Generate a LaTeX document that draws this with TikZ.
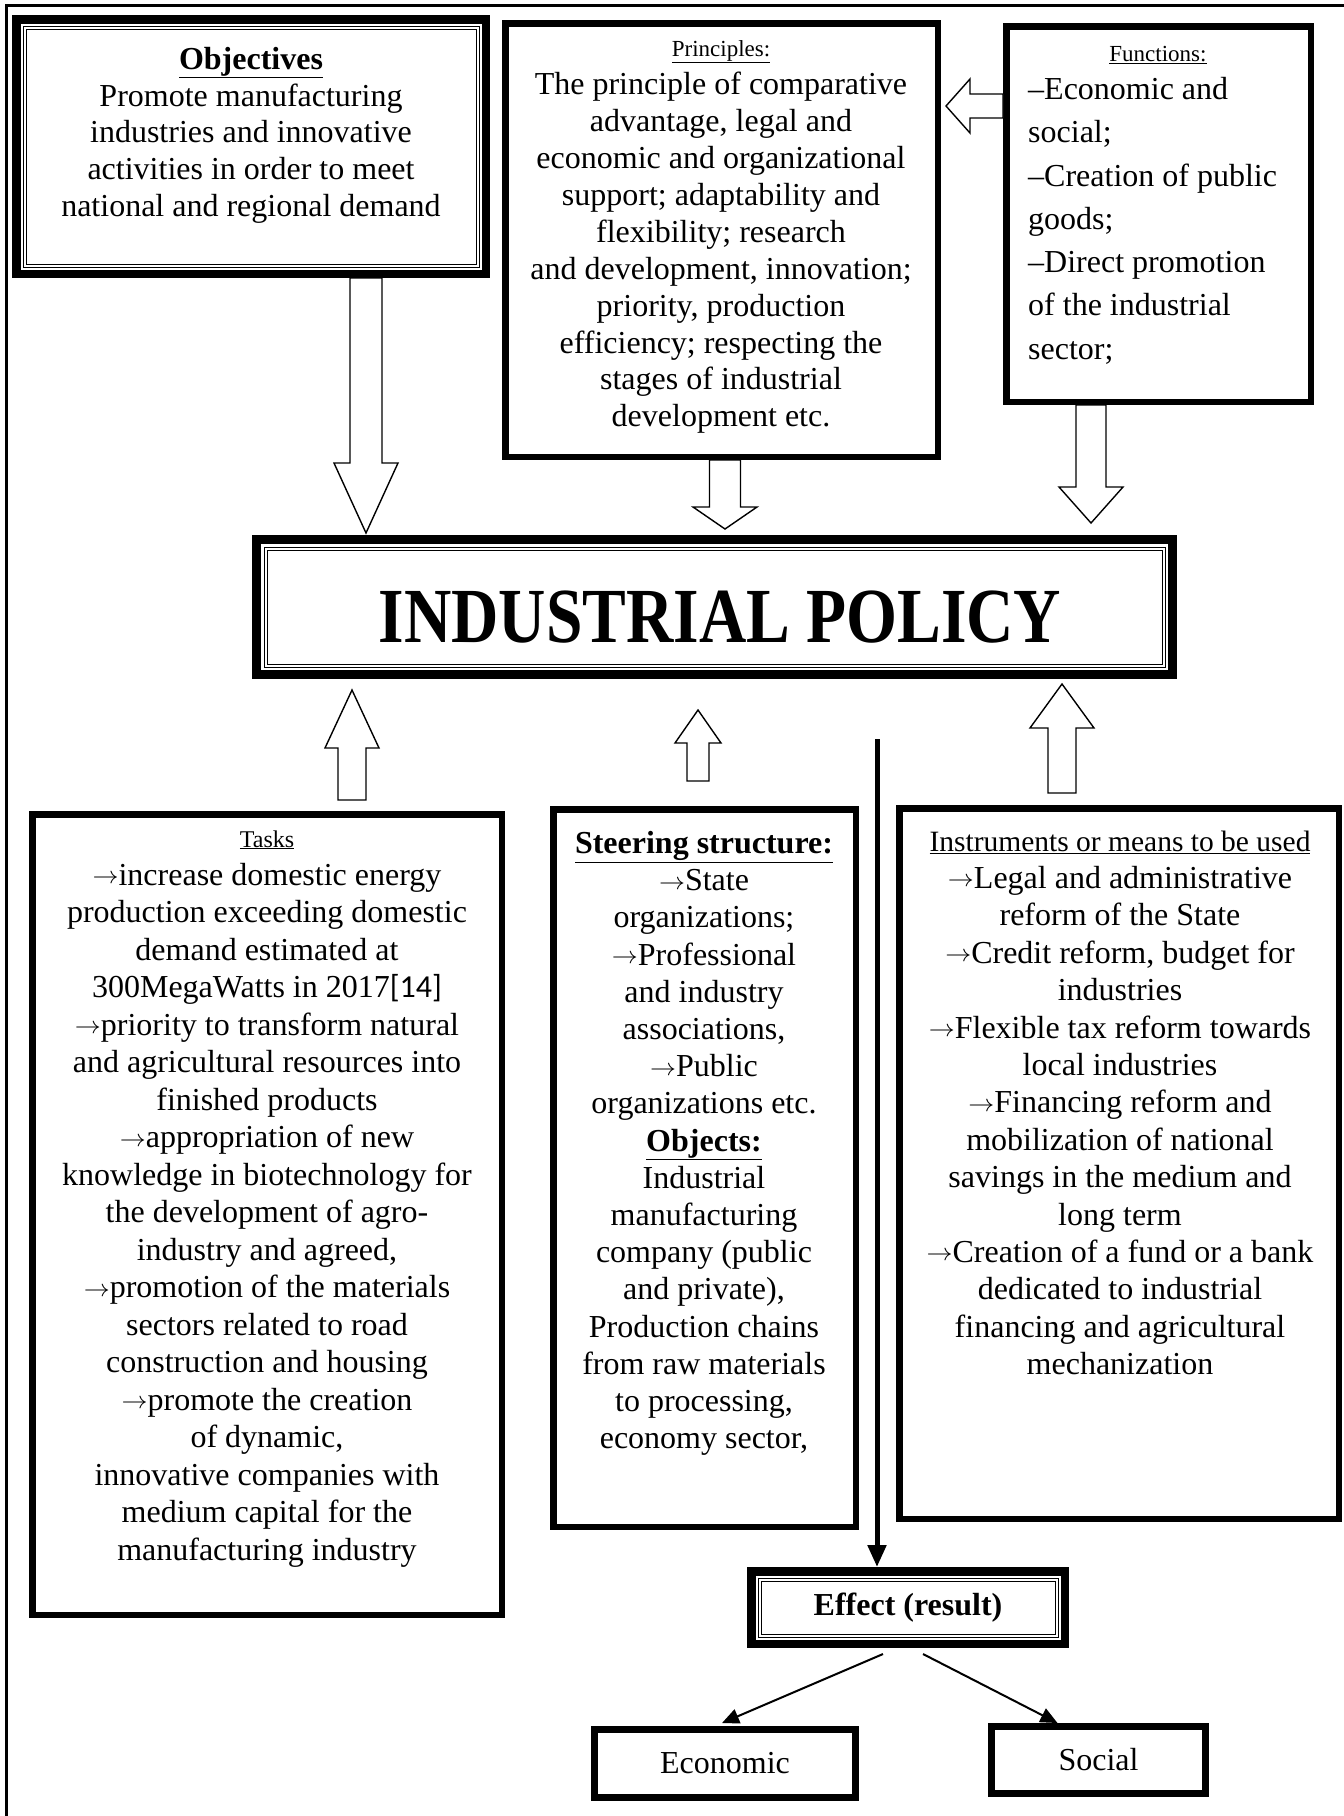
\documentclass[tikz,border=0pt]{standalone}
\usepackage{fontspec}
\setmainfont{Liberation Serif}
\newfontfamily\calib{Carlito}
\newcommand\rarr{{\fontsize{10}{10}\selectfont\raisebox{1.5pt}{\scalebox{2.6}[2.4]{$\rightarrow$}}}}
\usetikzlibrary{calc,arrows.meta}

\tikzset{
  thickbox/.style={draw, line width=6.5pt, inner sep=0pt, fill=white},
  heavybox/.style={draw, line width=8.5pt, inner sep=0pt, fill=white},
  innerline/.style={line width=1pt, double, double distance=2pt},
  hollow/.style={draw, line width=1.4pt, fill=white, line join=miter},
  txt/.style={inner sep=0pt, align=center},
  bodyfont/.style={font=\fontsize{32}{#1}\selectfont},
  headfont/.style={font=\fontsize{#1}{#1}\selectfont},
  thinarrow/.style={line width=2pt, -{Triangle[length=17pt,width=15pt]}},
}

\newcommand\blkdown[5]{\draw[hollow] let \p1=(#1), \p2=(#2) in
  (\x1-#3pt,\y1) -- (\x1-#3pt,\y2+#5pt) -- (\x1-#4pt,\y2+#5pt) -- (\x1,\y2)
  -- (\x1+#4pt,\y2+#5pt) -- (\x1+#3pt,\y2+#5pt) -- (\x1+#3pt,\y1) -- cycle;}
\newcommand\blkup[5]{\draw[hollow] let \p1=(#1), \p2=(#2) in
  (\x1-#3pt,\y1) -- (\x1-#3pt,\y2-#5pt) -- (\x1-#4pt,\y2-#5pt) -- (\x1,\y2)
  -- (\x1+#4pt,\y2-#5pt) -- (\x1+#3pt,\y2-#5pt) -- (\x1+#3pt,\y1) -- cycle;}
\newcommand\blkleft[5]{\draw[hollow] let \p1=(#1), \p2=(#2) in
  (\x1,\y1+#3pt) -- (\x2+#5pt,\y1+#3pt) -- (\x2+#5pt,\y1+#4pt) -- (\x2,\y1)
  -- (\x2+#5pt,\y1-#4pt) -- (\x2+#5pt,\y1-#3pt) -- (\x1,\y1-#3pt) -- cycle;}

\begin{document}
\begin{tikzpicture}[x=1pt,y=-1pt]
\useasboundingbox (0,0) rectangle (1344,1816);
\fill[white] (0,0) rectangle (1344,1816);

% page frame
\draw[line width=2.5pt] (6.5,1840) -- (6.5,5.5) -- (1360,5.5);

% ---------- boxes ----------
\node[heavybox, minimum width=469.5pt, minimum height=254.5pt] (obj) at (251,146.5) {};
\draw[innerline] ($(obj.north west)+(12.5,12.5)$) rectangle ($(obj.south east)+(-12.5,-12.5)$);

\node[thickbox, minimum width=432.5pt, minimum height=433.5pt] (prin) at (721.5,240) {};
\node[thickbox, minimum width=304.5pt, minimum height=375.5pt] (fun) at (1158.5,214) {};

\node[draw, line width=9pt, inner sep=0pt, fill=white, minimum width=916pt, minimum height=135pt] (ip) at (714.5,607) {};
\draw[innerline] ($(ip.north west)+(13.5,13.5)$) rectangle ($(ip.south east)+(-13.5,-13.5)$);

\node[thickbox, minimum width=469.5pt, minimum height=800.5pt] (task) at (267,1214.5) {};
\node[thickbox, minimum width=302.5pt, minimum height=717.5pt] (steer) at (704.5,1168) {};
\node[thickbox, minimum width=439.5pt, minimum height=710.5pt] (inst) at (1119,1163.5) {};

\node[heavybox, minimum width=313.5pt, minimum height=72.5pt, bodyfont=36] (eff) at (908,1607.5) {\textbf{Effect (result)}};
\draw[innerline] ($(eff.north west)+(12.5,12.5)$) rectangle ($(eff.south east)+(-12.5,-12.5)$);

\node[draw, line width=7pt, inner sep=0pt, fill=white, minimum width=261pt, minimum height=68pt, bodyfont=36] (econ) at (725,1763.5) {Economic};
\node[draw, line width=7pt, inner sep=0pt, fill=white, minimum width=214pt, minimum height=67pt, bodyfont=36] (soc) at (1098.5,1760) {Social};

% ---------- texts ----------
\node[txt, anchor=north, bodyfont=36.7] (objT) at (251,47)
  {\textbf{\underline{Objectives}}\\Promote manufacturing\\industries and innovative\\activities in order to meet\\national and regional demand};

\node[txt, anchor=base, headfont=23] (prinH) at (721,56) {\underline{Principles:}};
\node[txt, anchor=north, bodyfont=36.9] (prinT) at (721,72)
  {The principle of comparative\\advantage, legal and\\economic and organizational\\support; adaptability and\\flexibility; research\\and development, innovation;\\priority, production\\efficiency; respecting the\\stages of industrial\\development etc.};

\node[txt, anchor=base, headfont=23] (funH) at (1158,61) {\underline{Functions:}};
\node[inner sep=0pt, anchor=north west, align=left, bodyfont=43.3] (funT) at (1028,77)
  {\textendash Economic and\\social;\\\textendash Creation of public\\goods;\\\textendash Direct promotion\\of the industrial\\sector;};

\node[inner sep=0pt] (ipT) at (720,617)
  {\scalebox{0.84}[1]{\fontsize{78}{80}\selectfont\bfseries INDUSTRIAL POLICY}};

\node[txt, anchor=base, headfont=24] (taskH) at (267,847) {\underline{Tasks}};
\node[txt, anchor=north, bodyfont=37.5] (taskT) at (267,863)
  {\rarr increase domestic energy\\production exceeding domestic\\demand estimated at\\300MegaWatts in 2017{\calib[14]}\\\rarr priority to transform natural\\and agricultural resources into\\finished products\\\rarr appropriation of new\\knowledge in biotechnology for\\the development of agro-\\industry and agreed,\\\rarr promotion of the materials\\sectors related to road\\construction and housing\\\rarr promote the creation\\of dynamic,\\innovative companies with\\medium capital for the\\manufacturing industry};

\node[txt, anchor=north, bodyfont=37.2] (steerT) at (704,831)
  {\textbf{\underline{Steering structure:}}\\\rarr State\\organizations;\\\rarr Professional\\and industry\\associations,\\\rarr Public\\organizations etc.\\\textbf{\underline{Objects:}}\\Industrial\\manufacturing\\company (public\\and private),\\Production chains\\from raw materials\\to processing,\\economy sector,};

\node[txt, anchor=base, headfont=29.5] (instH) at (1120,851) {\underline{Instruments or means to be used}};
\node[txt, anchor=north, bodyfont=37.4] (instT) at (1120,866)
  {\rarr Legal and administrative\\reform of the State\\\rarr Credit reform, budget for\\industries\\\rarr Flexible tax reform towards\\local industries\\\rarr Financing reform and\\mobilization of national\\savings in the medium and\\long term\\\rarr Creation of a fund or a bank\\dedicated to industrial\\financing and agricultural\\mechanization};

% ---------- hollow block arrows ----------
\coordinate (a1s) at (366,278);  \coordinate (a1e) at (366,533);
\coordinate (a2s) at (725,460);  \coordinate (a2e) at (725,529);
\coordinate (a3s) at (1091,405); \coordinate (a3e) at (1091,523);
\coordinate (a4s) at (1003,106); \coordinate (a4e) at (946,106);
\coordinate (b1s) at (352,800);  \coordinate (b1e) at (352,690);
\coordinate (b2s) at (698,781);  \coordinate (b2e) at (698,710);
\coordinate (b3s) at (1062,793); \coordinate (b3e) at (1062,684);

\blkdown{a1s}{a1e}{16}{32}{70}
\blkdown{a2s}{a2e}{15.5}{32}{22}
\blkdown{a3s}{a3e}{15}{32}{36}
\blkleft{a4s}{a4e}{12}{27}{24}
\blkup{b1s}{b1e}{14}{27}{58}
\blkup{b2s}{b2e}{11}{23}{33}
\blkup{b3s}{b3e}{14}{32}{44}

% ---------- line arrows ----------
\coordinate (vtop) at (877,739);
\draw[line width=5pt, -{Triangle[length=22pt,width=18pt]}] (vtop) -- (eff.north -| vtop);

\coordinate (es1) at (883,1654);
\coordinate (es2) at (923,1654);
\draw[thinarrow] (es1) -- ($(econ.north)+(-3,-3)$);
\draw[thinarrow] (es2) -- ($(soc.north)+(-41,0)$);
\end{tikzpicture}
\end{document}
